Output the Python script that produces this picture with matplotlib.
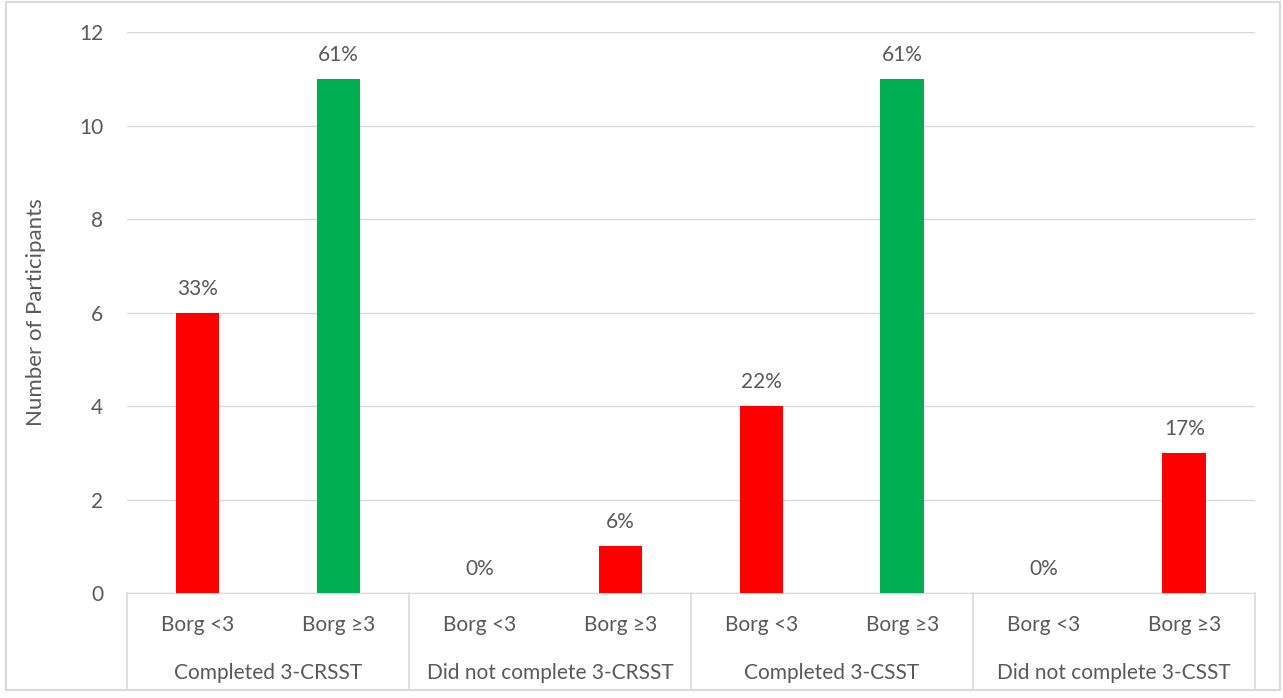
import matplotlib.pyplot as plt
from matplotlib.patches import Rectangle

# Participants per Borg rating, grouped by test outcome
groups = ["Completed 3-CRSST", "Did not complete 3-CRSST",
          "Completed 3-CSST", "Did not complete 3-CSST"]
borg_labels = ["Borg <3", "Borg \u22653"]
counts = [6, 11, 0, 1, 4, 11, 0, 3]
percents = ["33%", "61%", "0%", "6%", "22%", "61%", "0%", "17%"]
bar_colors = ["#ff0000", "#00b050", "#ff0000", "#ff0000",
              "#ff0000", "#00b050", "#ff0000", "#ff0000"]

text_color = "#595959"
grid_color = "#d9d9d9"
fs = 15
plt.rcParams["font.family"] = ["Lato", "DejaVu Sans"]

fig = plt.figure(figsize=(12.83, 6.98), dpi=100)
ax = fig.add_axes([0.099, 0.1504, 0.879, 0.8036])

n = len(counts)
x = list(range(n))
bars = ax.bar(x, counts, width=0.31, color=bar_colors, zorder=3)
ax.set_xlim(-0.5, n - 0.5)
ax.set_ylim(0, 12)
ax.set_yticks(range(0, 13, 2))
ax.grid(axis="y", color=grid_color, linewidth=1, zorder=0)

for bar, pct in zip(bars, percents):
    ax.annotate(pct, (bar.get_x() + bar.get_width() / 2, bar.get_height()),
                xytext=(0, 10), textcoords="offset points",
                ha="center", va="bottom", fontsize=fs, color=text_color)

for side in ["top", "right", "left"]:
    ax.spines[side].set_visible(False)
ax.spines["bottom"].set_color(grid_color)
ax.tick_params(axis="y", length=0, labelsize=fs, labelcolor=text_color, pad=17)
ax.set_xticks(x)
ax.set_xticklabels([borg_labels[i % 2] for i in x])
ax.tick_params(axis="x", length=0, labelsize=fs, labelcolor=text_color, pad=16)
ax.set_ylabel("Number of Participants", fontsize=16, color=text_color, labelpad=24)

# two-level category axis: group names and separators below the tick labels
trans = ax.get_xaxis_transform()
for g, name in enumerate(groups):
    ax.text(2 * g + 0.5, -0.143, name, transform=trans, ha="center", va="center",
            fontsize=fs, color=text_color)
for b in range(len(groups) + 1):
    ax.plot([2 * b - 0.5, 2 * b - 0.5], [0, -0.169], transform=trans,
            color=grid_color, linewidth=1.2, clip_on=False)

fig.patches.append(Rectangle((0.005, 0.012), 0.993, 0.985, transform=fig.transFigure,
                             fill=False, edgecolor=grid_color, linewidth=1.5))

fig.savefig("out.png", dpi=100)
